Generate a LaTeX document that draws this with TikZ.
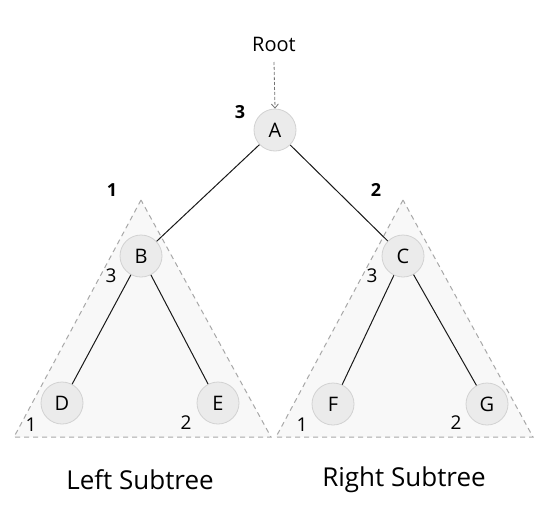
\documentclass[tikz,border=0pt]{standalone}
\usepackage{fontspec}
\setmainfont{Open Sans}
\usetikzlibrary{arrows.meta}
\definecolor{nodefill}{HTML}{EBEBEB}
\definecolor{nodeborder}{HTML}{D2D2D2}
\definecolor{trifill}{HTML}{F8F8F8}
\definecolor{tridash}{HTML}{A8A8A8}
\tikzset{
  vertex/.style={circle, draw=nodeborder, fill=nodefill, line width=0.8pt, minimum size=42pt, inner sep=0pt, font=\fontsize{20}{20}\selectfont},
  tri/.style={draw=tridash, fill=trifill, dash pattern=on 5pt off 4pt, line width=1pt},
  link/.style={draw=black!90, line width=1pt},
  num/.style={font=\fontsize{19}{19}\selectfont, inner sep=0pt},
  bnum/.style={font=\bfseries\fontsize{18}{18}\selectfont, inner sep=0pt},
  captext/.style={font=\fontsize{26}{26}\selectfont, inner sep=0pt}
}
\begin{document}
\begin{tikzpicture}[x=1pt,y=-1pt]
\useasboundingbox (0,0) rectangle (545,514);
\fill[white] (0,0) rectangle (545,514);
% triangles
\coordinate (lt) at (141,200);
\coordinate (ll) at (14,437);
\coordinate (lr) at (271,437);
\coordinate (rt) at (403,200);
\coordinate (rl) at (276,437);
\coordinate (rr) at (533,437);
\path[tri] (lt) -- (ll) -- (lr) -- cycle;
\path[tri] (rt) -- (rl) -- (rr) -- cycle;
% nodes
\node[vertex] (A) at (275,130) {A};
\node[vertex] (B) at (141,256) {B};
\node[vertex] (C) at (403,256) {C};
\node[vertex] (D) at (62,403) {D};
\node[vertex] (E) at (218,403) {E};
\node[vertex] (F) at (333,404) {F};
\node[vertex] (G) at (487,404) {G};
% edges
\draw[link] (A) -- (B);
\draw[link] (A) -- (C);
\draw[link] (B) -- (D);
\draw[link] (B) -- (E);
\draw[link] (C) -- (F);
\draw[link] (C) -- (G);
% root
\node[font=\fontsize{20}{20}\selectfont, inner sep=0pt] (root) at (274,44) {Root};
\coordinate (rs) at (274,62);
\draw[draw=black!55, dash pattern=on 3pt off 2pt, line width=0.8pt, -{Straight Barb[length=4pt,width=7pt]}] (rs) -- (A.north);
% numbers
\node[bnum] (n3) at (240,112) {3};
\node[bnum] (n1) at (112,190) {1};
\node[bnum] (n2) at (376,190) {2};
\node[num] (b3) at (111,276) {3};
\node[num] (d1) at (31,425) {1};
\node[num] (e2) at (186,423) {2};
\node[num] (c3) at (372,276) {3};
\node[num] (f1) at (302,425) {1};
\node[num] (g2) at (456,423) {2};
% captions
\node[captext] (lc) at (140,480) {Left Subtree};
\node[captext] (rc) at (404,480) {Right Subtree};
\end{tikzpicture}
\end{document}
